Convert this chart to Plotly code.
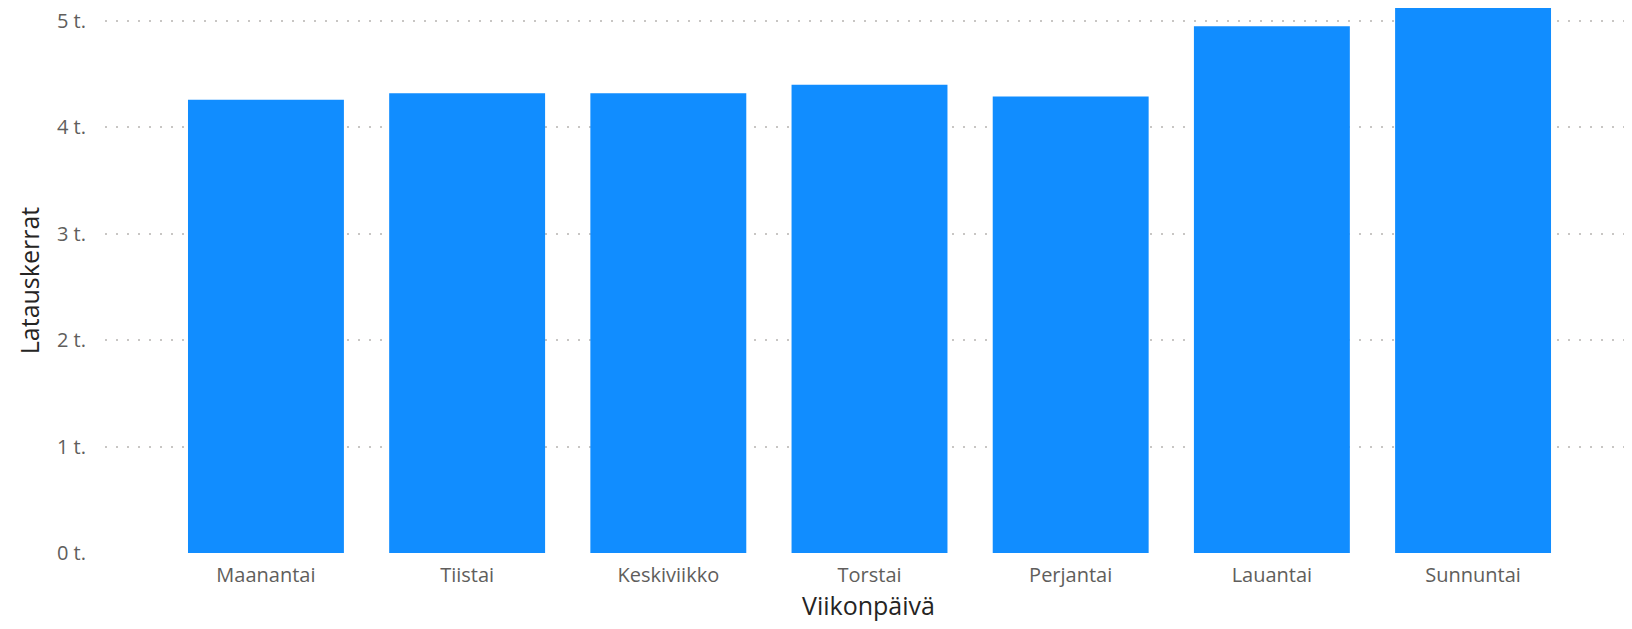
import plotly.graph_objects as go

days = ["Maanantai", "Tiistai", "Keskiviikko", "Torstai", "Perjantai", "Lauantai", "Sunnuntai"]
charges = [4260, 4320, 4320, 4400, 4290, 4950, 5350]
tick_vals = [0, 1000, 2000, 3000, 4000, 5000]
tick_text = ["0 t.", "1 t.", "2 t.", "3 t.", "4 t.", "5 t."]

fig = go.Figure(go.Bar(
    x=days, y=charges,
    marker=dict(color="#118DFF", line=dict(width=0)),
    hoverinfo="x+y",
))

fig.update_layout(
    width=1624, height=621,
    margin=dict(l=97, r=0, t=0, b=76),
    plot_bgcolor="white", paper_bgcolor="white",
    bargap=0.225,
    font=dict(family="Open Sans, Segoe UI, sans-serif", color="#605E5C", size=13),
    showlegend=False,
)
fig.update_xaxes(
    range=[-0.8, 6.79],
    showgrid=False, zeroline=False, showline=False,
    tickfont=dict(size=20, color="#605E5C"),
    ticks="", ticklabelstandoff=8,
    title=dict(text="Viikonpäivä", font=dict(size=25, color="#252423"), standoff=8),
)
fig.update_yaxes(
    range=[0, 5122],
    tickvals=tick_vals, ticktext=tick_text,
    showgrid=True, gridcolor="#C8C6C4", gridwidth=1.5, griddash="2px,9px",
    zeroline=False, showline=False,
    tickfont=dict(size=20, color="#605E5C"),
    ticklabelstandoff=18, ticklabeloverflow="allow",
    title=dict(text="Latauskerrat", font=dict(size=25, color="#252423"), standoff=10),
)

fig.write_html("out.html")
